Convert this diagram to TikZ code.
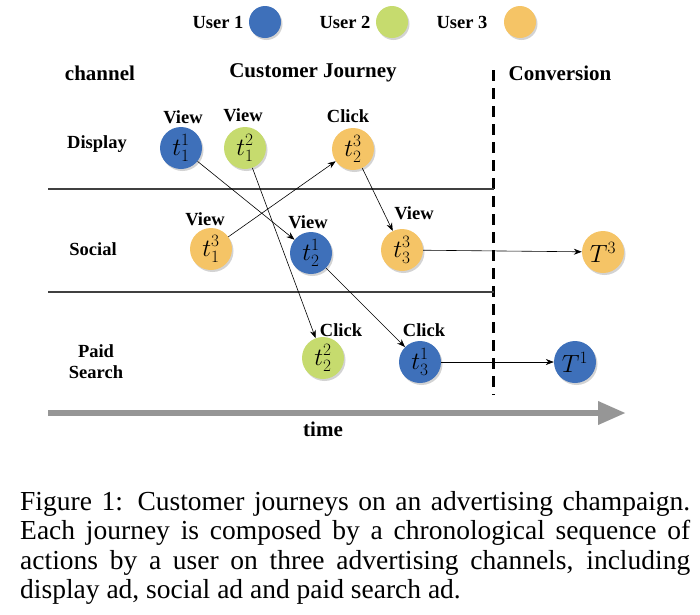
\documentclass[tikz,border=0pt]{standalone}
\usepackage{fontspec}
\setmainfont{Liberation Serif}
\usetikzlibrary{arrows.meta,shadows}
\definecolor{ublue}{RGB}{62,112,186}
\definecolor{ugreen}{RGB}{198,219,110}
\definecolor{uorange}{RGB}{245,196,102}
\definecolor{tgray}{RGB}{150,150,150}
\tikzset{
  ev/.style={circle,minimum size=42pt,inner sep=0pt,drop shadow={shadow xshift=1.5pt,shadow yshift=-2pt,opacity=0.35},font=\fontsize{25}{26}\selectfont},
  leg/.style={circle,minimum size=32pt,inner sep=0pt,drop shadow={shadow xshift=1.5pt,shadow yshift=-2pt,opacity=0.35}},
  lbl/.style={font=\bfseries\fontsize{18.5}{20}\selectfont,inner sep=0pt},
  hdr/.style={font=\bfseries\fontsize{21}{23}\selectfont,inner sep=0pt},
  link/.style={-{Stealth[length=8pt,width=6pt]},line width=0.6pt},
  sep/.style={line width=1.2pt,draw=black!75},
  capl/.style={anchor=base west,inner sep=0pt,font=\fontsize{27.5}{29}\selectfont}
}
\newcommand{\capline}[1]{\makebox[670pt][s]{#1}}
\begin{document}
\begin{tikzpicture}[x=1pt,y=-1pt]
\useasboundingbox (0,0) rectangle (700,614);
% legend
\node[lbl] (u1) at (218,22) {User 1};
\node[leg,fill=ublue] (c1) at (265,22) {};
\node[lbl] (u2) at (345,22) {User 2};
\node[leg,fill=ugreen] (c2) at (392,22) {};
\node[lbl] (u3) at (462,22) {User 3};
\node[leg,fill=uorange] (c3) at (520,22) {};
% headers
\node[hdr] (hch) at (100,73) {channel};
\node[hdr] (hcj) at (313,73) {Customer Journey};
\node[hdr] (hcv) at (560,73) {Conversion};
% separators
\coordinate (d0) at (493,70);
\coordinate (d1) at (493,395);
\draw[line width=3pt,dash pattern=on 11pt off 7pt] (d0) -- (d1);
\coordinate (s1a) at (48,189); \coordinate (s1b) at (494,189);
\coordinate (s2a) at (48,292); \coordinate (s2b) at (494,292);
\draw[sep] (s1a) -- (s1b);
\draw[sep] (s2a) -- (s2b);
% channels
\node[lbl] (chd) at (97,144) {Display};
\node[lbl] (chs) at (93,249) {Social};
\node[lbl,align=center,font=\bfseries\fontsize{18.5}{21}\selectfont] (chp) at (96,362) {Paid\\Search};
% events
\node[ev,fill=ublue] (t11) at (181,148) {$t_1^1$};
\node[ev,fill=ugreen] (t12) at (245,148) {$t_1^2$};
\node[ev,fill=uorange] (t23) at (353,149) {$t_2^3$};
\node[ev,fill=uorange] (t13) at (211,249) {$t_1^3$};
\node[ev,fill=ublue] (t21) at (311,253) {$t_2^1$};
\node[ev,fill=uorange] (t33) at (402,250) {$t_3^3$};
\node[ev,fill=ugreen] (t22) at (323,358) {$t_2^2$};
\node[ev,fill=ublue] (t31) at (420,362) {$t_3^1$};
\node[ev,fill=uorange] (T3) at (603,252) {$T^3$};
\node[ev,fill=ublue] (T1) at (575,362) {$T^1$};
% action labels
\node[lbl] (a1) at (183,117) {View};
\node[lbl] (a2) at (243,115) {View};
\node[lbl] (a3) at (348,116) {Click};
\node[lbl] (a4) at (205,219) {View};
\node[lbl] (a5) at (308,222) {View};
\node[lbl] (a6) at (414,213) {View};
\node[lbl] (a7) at (341,330) {Click};
\node[lbl] (a8) at (424,330) {Click};
% links
\draw[link] (t11) -- (t21);
\draw[link] (t12) -- (t22);
\draw[link] (t13) -- (t23);
\draw[link] (t23) -- (t33);
\draw[link] (t21) -- (t31);
\draw[link] (t33) -- (T3);
\draw[link] (t31) -- (T1);
% time axis
\coordinate (ta) at (48,413);
\coordinate (tb) at (626,413);
\draw[tgray,line width=6.5pt,-{Triangle[length=28pt,width=22pt]}] (ta) -- (tb);
\node[hdr] (time) at (323,429) {time};
% caption
\node[capl] (cap1) at (20,510) {\capline{Figure 1: Customer journeys on an advertising champaign.}};
\node[capl] (cap2) at (20,539.5) {\capline{Each journey is composed by a chronological sequence of}};
\node[capl] (cap3) at (20,569) {\capline{actions by a user on three advertising channels, including}};
\node[capl] (cap4) at (20,598) {display ad, social ad and paid search ad.};
\end{tikzpicture}
\end{document}
